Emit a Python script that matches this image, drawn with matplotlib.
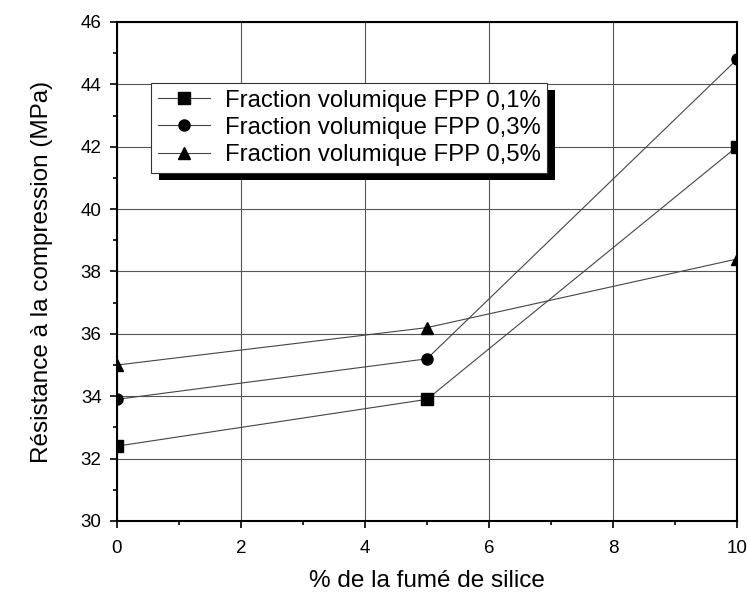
import matplotlib.pyplot as plt
import matplotlib
from matplotlib.patches import Rectangle
from matplotlib.ticker import MultipleLocator

matplotlib.rcParams['font.family'] = ['Liberation Sans', 'DejaVu Sans']

silice = [0, 5, 10]
fpp_01 = [32.4, 33.9, 42.0]
fpp_03 = [33.9, 35.2, 44.8]
fpp_05 = [35.0, 36.2, 38.4]
labels = ['Fraction volumique FPP 0,1%', 'Fraction volumique FPP 0,3%', 'Fraction volumique FPP 0,5%']
markers = ['s', 'o', '^']

fig = plt.figure(figsize=(7.47, 5.95), dpi=100)
ax = fig.add_axes([0.1566, 0.1244, 0.830, 0.8387])

for ys, m, lab in zip([fpp_01, fpp_03, fpp_05], markers, labels):
    ax.plot(silice, ys, color='#444444', lw=0.8, marker=m, markersize=8,
            markerfacecolor='black', markeredgecolor='black', label=lab)

ax.set_xlim(0, 10)
ax.set_ylim(30, 46)
ax.xaxis.set_major_locator(MultipleLocator(2))
ax.xaxis.set_minor_locator(MultipleLocator(1))
ax.yaxis.set_major_locator(MultipleLocator(2))
ax.yaxis.set_minor_locator(MultipleLocator(1))
ax.grid(True, which='major', color='#555555', lw=0.8)
ax.tick_params(which='major', direction='out', length=5, width=1.2, labelsize=13.5,
               top=False, right=False)
ax.tick_params(axis='x', which='major', pad=9)
ax.tick_params(axis='y', which='major', pad=6)
ax.tick_params(which='minor', direction='out', length=3, width=1.2, top=False, right=False)
for s in ax.spines.values():
    s.set_linewidth(1.5)

ax.set_xlabel('% de la fumé de silice', fontsize=17.5, labelpad=9)
ax.set_ylabel('Résistance à la compression (MPa)', fontsize=17.5, labelpad=20)

leg = ax.legend(loc='upper left', bbox_to_anchor=(0.055, 0.878), fontsize=17.2,
                frameon=True, fancybox=False, edgecolor='#333333', framealpha=1,
                handlelength=2.2, handletextpad=0.6, labelspacing=0.22,
                borderpad=0.28, borderaxespad=0)
leg.get_frame().set_linewidth(0.8)
leg.set_zorder(5)

fig.canvas.draw()
bb = leg.get_window_extent().transformed(ax.transAxes.inverted())
dx = 8 / ax.bbox.width
dy = 7 / ax.bbox.height
ax.add_patch(Rectangle((bb.x0 + dx, bb.y0 - dy), bb.width, bb.height,
                       transform=ax.transAxes, facecolor='black', edgecolor='none', zorder=4.5))

plt.savefig('out.png', dpi=100)
plt.close()
